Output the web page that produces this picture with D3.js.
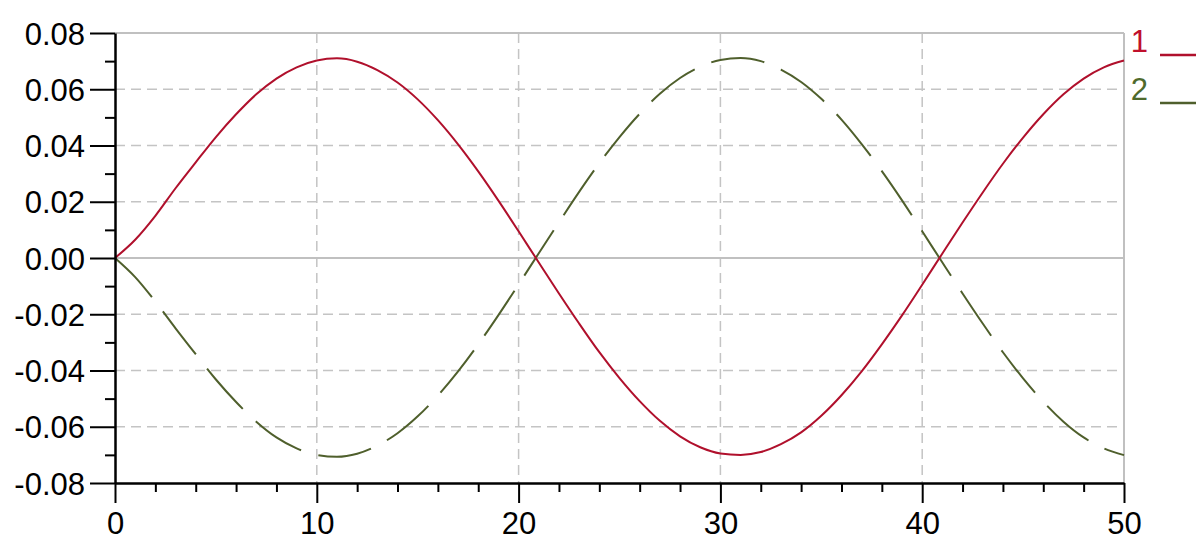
<!DOCTYPE html>
<html><head><meta charset="utf-8">
<script src="https://cdn.jsdelivr.net/npm/d3@7"></script>
<style>
html,body{margin:0;padding:0;background:#fff;}
svg{display:block;}
text{font-family:"Liberation Sans",Arial,sans-serif;}
</style></head>
<body><svg id="c" width="1196" height="549"></svg>
<script>
// ---- data ----
const xValues = [0,1,2,3,4,5,6,7,8,9,10,11,12,13,14,15,16,17,18,19,20,21,22,23,24,25,26,27,28,29,30,31,32,33,34,35,36,37,38,39,40,41,42,43,44,45,46,47,48,49,50];
const series1 = [0.0000,0.0065,0.0150,0.0248,0.0340,0.0430,0.0511,0.0582,0.0638,0.0678,0.0702,0.0710,0.0698,0.0668,0.0624,0.0564,0.0490,0.0404,0.0308,0.0204,0.0095,-0.0016,-0.0126,-0.0233,-0.0335,-0.0427,-0.0509,-0.0579,-0.0634,-0.0673,-0.0695,-0.0700,-0.0690,-0.0662,-0.0620,-0.0561,-0.0488,-0.0403,-0.0307,-0.0204,-0.0095,0.0016,0.0126,0.0233,0.0335,0.0428,0.0511,0.0582,0.0638,0.0678,0.0702];
const series2 = [0.0000,-0.0068,-0.0155,-0.0250,-0.0342,-0.0432,-0.0512,-0.0582,-0.0638,-0.0677,-0.0700,-0.0707,-0.0696,-0.0667,-0.0623,-0.0563,-0.0489,-0.0403,-0.0307,-0.0203,-0.0094,0.0017,0.0127,0.0235,0.0337,0.0430,0.0513,0.0584,0.0640,0.0680,0.0704,0.0711,0.0700,0.0670,0.0626,0.0566,0.0492,0.0405,0.0309,0.0205,0.0095,-0.0016,-0.0126,-0.0233,-0.0335,-0.0428,-0.0511,-0.0582,-0.0638,-0.0677,-0.0701];
const seriesNames = ["1","2"];
const xTicks = [0,10,20,30,40,50];
const xTickLabels = ["0","10","20","30","40","50"];
const xMinorTicks = [2,4,6,8,12,14,16,18,22,24,26,28,32,34,36,38,42,44,46,48];
const yTicks = [-0.08,-0.06,-0.04,-0.02,0,0.02,0.04,0.06,0.08];
const yTickLabels = ["-0.08","-0.06","-0.04","-0.02","0.00","0.02","0.04","0.06","0.08"];
const yMinorTicks = [-0.07,-0.05,-0.03,-0.01,0.01,0.03,0.05,0.07];

// ---- layout ----
const svg = d3.select("#c");
const x = d3.scaleLinear().domain([0,50]).range([115,1124]);
const y = d3.scaleLinear().domain([-0.08,0.08]).range([483,33]);
const colors = ["#b0102c","#4f5f2c"];
const gridColor = "#c4c4c4";

// grid
const g = svg.append("g");
g.selectAll(".hg").data(yTicks.filter(v=>v!==0 && v!==0.08 && v!==-0.08)).enter().append("line")
  .attr("x1",x(0)).attr("x2",x(50)).attr("y1",d=>y(d)).attr("y2",d=>y(d))
  .attr("stroke",gridColor).attr("stroke-width",1.5).attr("stroke-dasharray","10,6");
g.selectAll(".vg").data(xTicks.filter(v=>v!==0 && v!==50)).enter().append("line")
  .attr("y1",y(0.08)).attr("y2",y(-0.08)).attr("x1",d=>x(d)).attr("x2",d=>x(d))
  .attr("stroke",gridColor).attr("stroke-width",1.5).attr("stroke-dasharray","10,6");
// zero line
g.append("line").attr("x1",x(0)).attr("x2",x(50)).attr("y1",y(0)).attr("y2",y(0))
  .attr("stroke","#c0c0c0").attr("stroke-width",2);
// top and right border
g.append("line").attr("x1",x(0)).attr("x2",x(50)).attr("y1",y(0.08)).attr("y2",y(0.08))
  .attr("stroke","#c0c0c0").attr("stroke-width",2);
g.append("line").attr("x1",x(50)).attr("x2",x(50)).attr("y1",y(0.08)).attr("y2",y(-0.08))
  .attr("stroke","#c0c0c0").attr("stroke-width",2);

// lines
const line = d3.line().x((d,i)=>x(xValues[i])).y(d=>y(d)).curve(d3.curveMonotoneX);
svg.append("path").datum(series2).attr("d",line).attr("fill","none")
  .attr("stroke",colors[1]).attr("stroke-width",2).attr("stroke-dasharray","54,18");
svg.append("path").datum(series1).attr("d",line).attr("fill","none")
  .attr("stroke",colors[0]).attr("stroke-width",2);

// axes
const fontSize = 31;
const xAxis = d3.axisBottom(x).tickValues(xTicks).tickFormat((d,i)=>xTickLabels[i]).tickSize(20).tickSizeOuter(0).tickPadding(9);
const xa = svg.append("g").attr("transform",`translate(0,${y(-0.08)})`).call(xAxis);
const xMinor = d3.axisBottom(x).tickValues(xMinorTicks).tickFormat("").tickSize(9).tickSizeOuter(0);
const xm = svg.append("g").attr("transform",`translate(0,${y(-0.08)})`).call(xMinor);
xm.select(".domain").remove();

const yAxis = d3.axisLeft(y).tickValues(yTicks).tickFormat((d,i)=>yTickLabels[i]).tickSize(25).tickSizeOuter(0).tickPadding(5);
const ya = svg.append("g").attr("transform",`translate(${x(0)},0)`).call(yAxis);
const yMinor = d3.axisLeft(y).tickValues(yMinorTicks).tickFormat("").tickSize(10).tickSizeOuter(0);
const ym = svg.append("g").attr("transform",`translate(${x(0)},0)`).call(yMinor);
ym.select(".domain").remove();

[xa,xm,ya,ym].forEach(a=>{
  a.selectAll("line").attr("stroke","#000").attr("stroke-width",2);
  a.selectAll(".domain").attr("stroke","#000").attr("stroke-width",2.5);
  a.selectAll("text").attr("fill","#000").style("font-size",fontSize+"px")
   .style("font-family",'"Liberation Sans",Arial,sans-serif');
});
ya.selectAll("text").attr("dy","0.36em");
xa.selectAll("text").attr("dy","0.72em");

// legend
const leg = svg.append("g");
seriesNames.forEach((n,i)=>{
  const yy = 55 + i*48;
  leg.append("text").attr("x",1148).attr("y",yy-3).attr("text-anchor","end")
    .style("font-size",fontSize+"px").attr("fill",i===0?"#c0102c":"#4f6a2c").text(n);
  leg.append("line").attr("x1",1160).attr("x2",1196).attr("y1",yy).attr("y2",yy)
    .attr("stroke",colors[i]).attr("stroke-width",2.5);
});
</script></body></html>
